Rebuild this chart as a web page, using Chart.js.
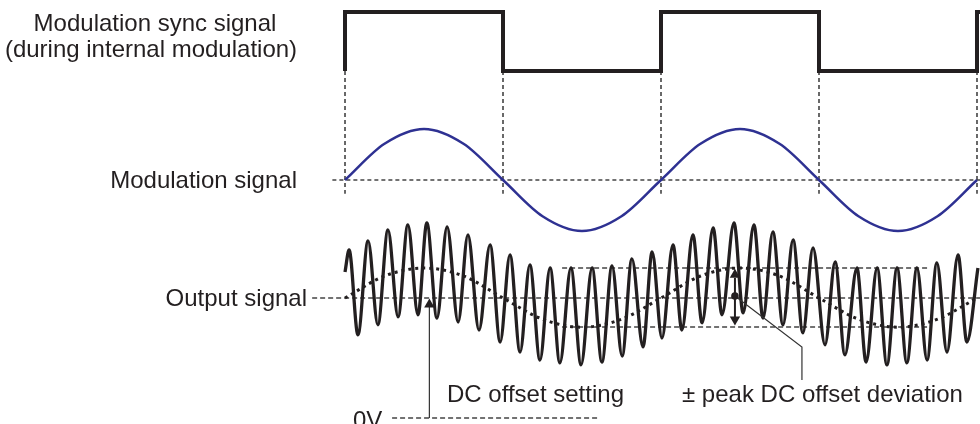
<!DOCTYPE html>
<html>
<head>
<meta charset="utf-8">
<script src="https://cdn.jsdelivr.net/npm/chart.js@4/dist/chart.umd.min.js"></script>
<style>
  body { margin: 0; background: #fff; }
  #wrap { position: relative; width: 980px; height: 424px; overflow: hidden; }
  #chart { position: absolute; left: 0; top: 0; }
  .lbl { position: absolute; font-family: "Liberation Sans", Arial, sans-serif; font-size: 24px;
         line-height: 24px; color: #231f20; white-space: nowrap; }
</style>
</head>
<body>
<div id="wrap">
  <canvas id="chart" width="980" height="424"></canvas>
  <div class="lbl" style="left:0; width:310px; text-align:center; top:11px;">Modulation sync signal</div>
  <div class="lbl" style="left:0; width:302px; text-align:center; top:37px;">(during internal modulation)</div>
  <div class="lbl" style="left:0; width:297px; text-align:right; top:168px;">Modulation signal</div>
  <div class="lbl" style="left:0; width:307px; text-align:right; top:286px;">Output signal</div>
  <div class="lbl" style="left:447px; top:382px;">DC offset setting</div>
  <div class="lbl" style="left:682px; top:382px;">± peak DC offset deviation</div>
  <div class="lbl" style="left:353px; top:408px;">0V</div>
</div>
<script>
// time in microseconds (1 kHz modulation), output in volts
const syncTime = [0, 0, 500, 500, 1000, 1000, 1500, 1500, 2000, 2000, 2030];
const syncLevel = [0, 1, 1, 0, 0, 1, 1, 0, 0, 1, 1];

const modTime = [0, 125, 250, 375, 500, 625, 750, 875, 1000, 1125, 1250, 1375, 1500, 1625, 1750, 1875, 2000];
const modLevel = [0, 0.71, 1, 0.71, 0, -0.71, -1, -0.71, 0, 0.71, 1, 0.71, 0, -0.71, -1, -0.71, 0];
const dcLevel = [3, 3.55, 3.75, 3.55, 3, 2.47, 2.27, 2.47, 3, 3.55, 3.75, 3.55, 3, 2.47, 2.27, 2.47, 3];

const carrierTime = [0, 13, 41, 73, 104, 136, 168, 199, 231, 259, 291, 323, 358, 389, 424, 459, 491,
  522, 554, 585, 617, 649, 680, 715, 747, 782, 813, 845, 877, 908, 943, 972, 1003,
  1038, 1066, 1101, 1130, 1165, 1193, 1231, 1260, 1294, 1323, 1354, 1386, 1418, 1449,
  1481, 1519, 1551, 1582, 1620, 1649, 1684, 1715, 1747, 1778, 1810, 1842, 1873, 1905, 1940, 1968, 2003];
const carrierLevel = [3.65, 4.20, 2.08, 4.43, 2.33, 4.70, 2.53, 4.83, 2.58, 4.88, 2.50, 4.78, 2.40, 4.58, 2.20, 4.33, 1.90,
  4.08, 1.65, 3.83, 1.45, 3.75, 1.38, 3.75, 1.33, 3.75, 1.40, 3.80, 1.55, 3.98, 1.78, 4.15, 2.00,
  4.33, 2.20, 4.58, 2.38, 4.75, 2.58, 4.88, 2.63, 4.83, 2.50, 4.65, 2.33, 4.45, 2.13,
  4.25, 1.83, 3.90, 1.58, 3.75, 1.40, 3.75, 1.33, 3.75, 1.38, 3.75, 1.45, 3.88, 1.65, 4.08, 1.90, 3.75];

const edgeTime = [0, 500, 1000, 1500, 2000];
const edgeDepth = -2.08;            // guides run from sync low level down past the modulation signal
const modZeroSpan = [-40, 2030];
const outCenterSpan = [-104, 2030];
const outCenterLevel = 3;
const peakSpan = [687, 1842];
const peakLevels = [3.75, 2.275];
const zeroVoltSpan = [149, 801];

const dcArrowTime = 267;
const dcArrowLine = [0, 2.78];
const dcArrowHead = 2.84;
const devTime = 1234;
const devLine = [2.52, 3.5];
const devHeads = [3.58, 2.465];
const devDot = 3.05;
const leaderTime = [1234, 1446, 1446];
const leaderLevel = [3.05, 1.775, 0.95];

const ink = '#231f20';
const guide = '#444';

function pairs(xs, ys) {
    return xs.map((x, i) => ({ x: x, y: ys[i] }));
}

function segment(x0, x1, y) {
    return [{ x: x0, y: y }, { x: x1, y: y }];
}

const edgeGuides = [];
edgeTime.forEach(t => {
    edgeGuides.push({ x: t, y: 0 }, { x: t, y: edgeDepth }, { x: t, y: null });
});

const thinDash = {
    borderColor: guide, borderWidth: 1.4, borderDash: [5, 3], pointRadius: 0, tension: 0,
    yAxisID: 'yOut'
};

const datasets = [
    // annotation marks
    {
        data: [{ x: devTime, y: devDot }], yAxisID: 'yOut', showLine: false,
        pointRadius: 3.8, pointStyle: 'circle', pointBackgroundColor: ink, pointBorderWidth: 0
    },
    {
        data: [{ x: dcArrowTime, y: dcArrowHead }, { x: devTime, y: devHeads[0] }, { x: devTime, y: devHeads[1] }],
        yAxisID: 'yOut', showLine: false, pointRadius: 6, pointStyle: 'triangle',
        rotation: [0, 0, 180], pointBackgroundColor: ink, pointBorderColor: ink, pointBorderWidth: 0
    },
    {
        data: [{ x: devTime, y: devLine[0] }, { x: devTime, y: devLine[1] }],
        yAxisID: 'yOut', borderColor: ink, borderWidth: 2, pointRadius: 0
    },
    {
        data: [{ x: dcArrowTime, y: dcArrowLine[0] }, { x: dcArrowTime, y: dcArrowLine[1] }],
        yAxisID: 'yOut', borderColor: '#333', borderWidth: 1.2, pointRadius: 0
    },
    {
        data: pairs(leaderTime, leaderLevel),
        yAxisID: 'yOut', borderColor: '#333', borderWidth: 1.2, pointRadius: 0, tension: 0
    },
    // output signal
    {
        data: pairs(carrierTime, carrierLevel), yAxisID: 'yOut',
        borderColor: ink, borderWidth: 3.3, pointRadius: 0, cubicInterpolationMode: 'monotone'
    },
    {
        data: pairs(modTime, dcLevel), yAxisID: 'yOut',
        borderColor: ink, borderWidth: 3, borderDash: [3, 4], pointRadius: 0, cubicInterpolationMode: 'monotone'
    },
    // modulation signal
    {
        data: pairs(modTime, modLevel), yAxisID: 'yMod',
        borderColor: '#2e3192', borderWidth: 2.5, pointRadius: 0, cubicInterpolationMode: 'monotone'
    },
    // sync signal
    {
        data: pairs(syncTime, syncLevel), yAxisID: 'ySync',
        borderColor: ink, borderWidth: 4, pointRadius: 0, tension: 0,
        borderJoinStyle: 'miter', borderCapStyle: 'butt'
    },
    // guides
    {
        data: edgeGuides, yAxisID: 'ySync', spanGaps: false,
        borderColor: guide, borderWidth: 1.6, borderDash: [4, 3], pointRadius: 0, tension: 0
    },
    {
        data: segment(modZeroSpan[0], modZeroSpan[1], 0), yAxisID: 'yMod',
        borderColor: guide, borderWidth: 1.6, borderDash: [4, 3], pointRadius: 0
    },
    Object.assign({ data: segment(outCenterSpan[0], outCenterSpan[1], outCenterLevel) }, thinDash),
    Object.assign({ data: segment(peakSpan[0], peakSpan[1], peakLevels[0]) }, thinDash),
    Object.assign({ data: segment(peakSpan[0], peakSpan[1], peakLevels[1]) }, thinDash),
    Object.assign({ data: segment(zeroVoltSpan[0], zeroVoltSpan[1], 0) }, thinDash)
];

const ctx = document.getElementById('chart');

new Chart(ctx, {
    type: 'line',
    data: { datasets: datasets },
    options: {
        responsive: false,
        animation: false,
        layout: { padding: 0, autoPadding: false },
        plugins: { legend: { display: false }, tooltip: { enabled: false } },
        elements: { point: { radius: 0 } },
        scales: {
            x: { type: 'linear', min: -1091.8, max: 2009.5, display: false },
            ySync: { type: 'linear', min: -5.983, max: 1.2034, display: false },
            yMod: { type: 'linear', min: -4.784, max: 3.529, display: false },
            yOut: { type: 'linear', min: -0.15, max: 10.45, display: false }
        }
    }
});
</script>
</body>
</html>
